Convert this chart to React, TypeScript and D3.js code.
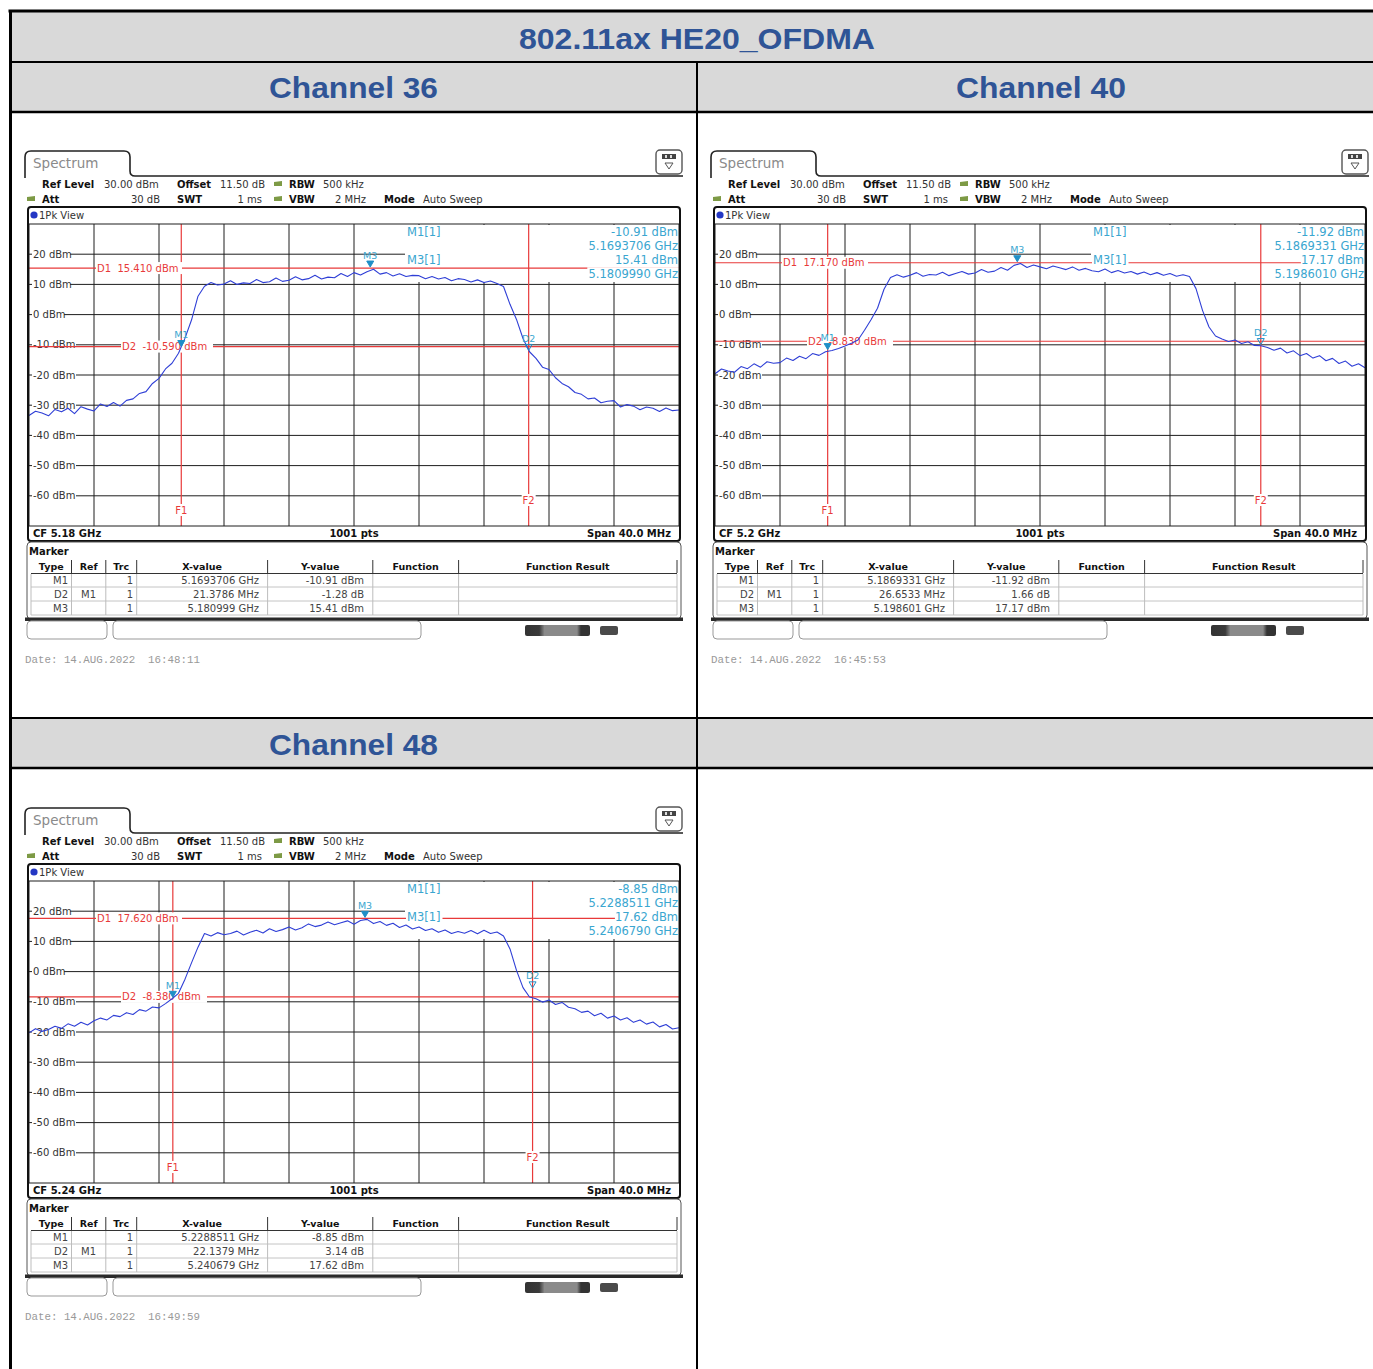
import React from "react";
import * as d3 from "d3";

// ---------- data ----------
const tableTitle = "802.11ax HE20_OFDMA";
const channelNames = ["Channel 36", "Channel 40", "Channel 48"];
const centerFreqGHz = [5.18, 5.2, 5.24];
const cfLabels = ["CF 5.18 GHz", "CF 5.2 GHz", "CF 5.24 GHz"];
const spanMHz = 40;
const sweepPts = 1001;
const yTicks = [20, 10, 0, -10, -20, -30, -40, -50, -60];
const refLevelDbm = 30;
const bottomDbm = -70;

const m1Freq = [5.1693706, 5.1869331, 5.2288511];
const m1Level = [-10.91, -11.92, -8.85];
const d2OffsetMHz = [21.3786, 26.6533, 22.1379];
const d2DeltaDb = [-1.28, 1.66, 3.14];
const m3Freq = [5.180999, 5.198601, 5.240679];
const m3Level = [15.41, 17.17, 17.62];
const d1LineDbm = [15.41, 17.17, 17.62];
const d2LineDbm = [-10.59, -8.83, -8.38];
const dateStamps = ["14.AUG.2022  16:48:11", "14.AUG.2022  16:45:53", "14.AUG.2022  16:49:59"];

// trace levels (dBm), sampled every 0.4 MHz across the 40 MHz span
const traceCh36 = [
  -33.4, -32.0, -32.6, -33.5, -31.4, -32.2, -31.0, -32.8, -30.5, -31.3,
  -31.9, -29.6, -30.4, -29.1, -30.3, -28.4, -27.9, -26.1, -25.5, -22.8,
  -21.1, -18.0, -16.1, -12.8, -7.8, -1.8,
  6.1, 9.4, 10.6, 9.8, 10.1, 11.2, 10.0, 10.5, 10.3, 11.6,
  10.6, 10.9, 12.1, 11.0, 11.4, 12.5, 11.5, 11.9, 13.0, 11.8,
  12.4, 12.2, 13.6, 12.6, 13.9, 13.1, 14.2, 15.0, 13.4, 13.9,
  12.8, 13.5, 12.6, 13.0, 12.9, 11.9, 12.6, 11.8, 12.3, 11.2,
  11.9, 11.6, 10.8, 11.5, 10.6, 11.1, 10.3, 9.3,
  3.4, -1.6, -7.9, -12.3, -14.5, -17.4, -18.2, -20.9, -22.8, -23.9,
  -25.8, -26.4, -27.9, -27.6, -29.2, -28.7, -28.5, -30.6, -29.8, -30.3,
  -31.5, -30.6, -31.0, -32.1, -30.9, -31.8, -31.6,
];
const traceCh40 = [
  -19.6, -18.0, -18.7, -19.1, -17.2, -17.9, -16.3, -17.4, -15.6, -16.1,
  -15.9, -14.4, -15.2, -13.8, -14.6, -12.9, -13.5, -12.3, -11.9, -11.2,
  -10.4, -9.5, -8.4, -5.2, -1.7, 2.1,
  8.4, 12.3, 13.2, 12.4, 13.0, 13.9, 12.7, 13.3, 13.1, 14.0,
  12.9, 13.6, 14.3, 13.4, 13.8, 14.9, 14.0, 14.4, 15.6, 14.7,
  16.3, 16.9, 15.6, 16.4, 15.8, 15.2, 16.1, 15.5, 14.9, 15.8,
  14.7, 15.3, 14.5, 14.2, 15.1, 13.9, 14.6, 13.8, 14.3, 13.4,
  14.1, 13.2, 13.9, 13.0, 13.6, 12.7, 13.2, 12.6,
  8.6, 1.4, -4.1, -7.1, -8.1, -8.9, -8.4, -9.6, -9.0, -10.2,
  -10.3, -10.9, -11.8, -11.1, -12.7, -12.0, -13.6, -12.9, -14.4, -13.6,
  -15.3, -14.5, -16.2, -15.4, -17.1, -16.3, -17.6,
];
const traceCh48 = [
  -20.3, -18.9, -19.8, -19.2, -18.1, -18.8, -17.3, -18.1, -16.8, -17.7,
  -16.3, -15.4, -16.0, -14.5, -14.9, -13.6, -14.2, -12.6, -13.1, -11.7,
  -12.0, -10.6, -9.0, -7.2, -2.5, 2.9,
  8.1, 12.6, 11.8, 12.9, 12.2, 12.6, 13.4, 12.1, 13.0, 13.7,
  12.8, 14.2, 13.3, 13.9, 14.8, 13.8, 14.5, 15.8, 14.9, 15.4,
  16.4, 15.5, 16.2, 16.8, 15.7, 16.9, 17.3, 15.9, 16.6, 15.3,
  16.0, 14.6, 15.4, 14.1, 14.8, 13.6, 14.2, 13.0, 13.8, 12.6,
  13.3, 12.7, 13.6, 12.5, 13.7, 12.6, 13.1, 11.8,
  7.5, 0.4, -5.3, -8.4, -9.0, -10.1, -9.4, -10.9, -10.2, -11.8,
  -12.3, -13.5, -13.1, -14.6, -13.8, -15.4, -14.7, -16.0, -15.3, -16.8,
  -16.0, -17.4, -16.7, -18.3, -17.5, -19.0, -18.6,
];
const traces = [traceCh36, traceCh40, traceCh48];

// ---------- layout ----------
const W = 1373;
const H = 1369;
const FONT = "'DejaVu Sans', Verdana, sans-serif";
const TITLE_FONT = "'Liberation Sans', Arial, sans-serif";
const BLUE_TITLE = "#2f5496";
const RED = "#e83a3a";
const CYAN = "#3aa6d0";
const TRACE = "#2f3fd6";
const GRID = "#1e1e1e";
const GX0 = 29, GX1 = 679, GY0 = 224, GY1 = 526;
const panelOffsets = [ { x: 0, y: 0 }, { x: 686, y: 0 }, { x: 0, y: 657 } ];

function BgText ( { x, y, text, size = 10, color = "#222", anchor = "start", weight = "normal", pad = 1 }: any )
{
    const w = text.length * size * 0.6;
    const x0 = anchor === "end" ? x - w : anchor === "middle" ? x - w / 2 : x;
    return (
        <g>
            <rect x={ x0 - pad } y={ y - size / 2 - 1 } width={ w + pad * 2 } height={ size + 2 } fill="#fff" />
            <text x={ x } y={ y } fill={ color } fontSize={ size } fontWeight={ weight } textAnchor={ anchor }
                dominantBaseline="central" style={ { whiteSpace: "pre" } }>{ text }</text>
        </g>
    );
}

function T ( { x, y, children, size = 10, color = "#222", anchor = "start", weight = "normal", family = FONT }: any )
{
    return (
        <text x={ x } y={ y } fill={ color } fontSize={ size } fontWeight={ weight } textAnchor={ anchor }
            fontFamily={ family } dominantBaseline="central" style={ { whiteSpace: "pre" } }>{ children }</text>
    );
}

function GreenSq ( { x, y }: any )
{
    return <path d={ `M${ x },${ y + 1 }L${ x + 8 },${ y }L${ x + 8 },${ y + 5 }L${ x },${ y + 5 }Z` } fill="#7d9a45" />;
}

function Panel ( { i }: { i: number } )
{
    const off = panelOffsets[ i ];
    const start = centerFreqGHz[ i ] - spanMHz / 2000;
    const stop = centerFreqGHz[ i ] + spanMHz / 2000;
    const x = d3.scaleLinear().domain( [ start, stop ] ).range( [ GX0, GX1 ] );
    const y = d3.scaleLinear().domain( [ bottomDbm, refLevelDbm ] ).range( [ GY1, GY0 ] );
    const trace = traces[ i ];
    const step = ( stop - start ) / ( trace.length - 1 );
    const line = d3.line<number>().x( ( _, k ) => x( start + k * step ) ).y( ( d ) => y( d ) );
    const vLines = d3.range( 1, 10 ).map( ( k ) => start + ( k * ( stop - start ) ) / 10 );

    const d2Freq = m1Freq[ i ] + d2OffsetMHz[ i ] / 1000;
    const d2Lvl = m1Level[ i ] + d2DeltaDb[ i ];
    const markers = [
        { name: "M1", f: m1Freq[ i ], l: m1Level[ i ], delta: false },
        { name: "D2", f: d2Freq, l: d2Lvl, delta: true },
        { name: "M3", f: m3Freq[ i ], l: m3Level[ i ], delta: false },
    ];

    const rows = [
        [ "M1", "", "1", `${ m1Freq[ i ].toFixed( 7 ) } GHz`, `${ m1Level[ i ].toFixed( 2 ) } dBm` ],
        [ "D2", "M1", "1", `${ d2OffsetMHz[ i ].toFixed( 4 ) } MHz`, `${ d2DeltaDb[ i ].toFixed( 2 ) } dB` ],
        [ "M3", "", "1", `${ m3Freq[ i ].toFixed( 6 ) } GHz`, `${ m3Level[ i ].toFixed( 2 ) } dBm` ],
    ];
    const colEdges = [ 31, 71.5, 105.8, 136.7, 267.6, 372.8, 458.6, 677 ];
    const headers = [ "Type", "Ref", "Trc", "X-value", "Y-value", "Function", "Function Result" ];

    return (
        <g transform={ `translate(${ off.x },${ off.y })` } fontFamily={ FONT }>
            {/* Spectrum tab + icon */ }
            <path d="M25,178 L25,157 Q25,151 31,151 L124,151 Q130,151 130,157 L130,171 Q130,176 135,176 L683,176"
                fill="none" stroke="#222" strokeWidth={ 1.6 } />
            <T x={ 33 } y={ 163 } size={ 13.5 } color="#8a8a8a">Spectrum</T>
            <rect x={ 656 } y={ 150 } width={ 26 } height={ 24 } rx={ 4 } fill="#fff" stroke="#555" strokeWidth={ 1.4 } />
            <rect x={ 662 } y={ 154 } width={ 14 } height={ 5 } fill="#444" />
            <rect x={ 665 } y={ 155 } width={ 2 } height={ 3 } fill="#ddd" />
            <rect x={ 670 } y={ 155 } width={ 2 } height={ 3 } fill="#ddd" />
            <path d="M665,163 L673,163 L669,169 Z" fill="none" stroke="#555" strokeWidth={ 1 } />

            {/* setting rows */ }
            <T x={ 42 } y={ 184 } weight="bold" color="#111">Ref Level</T>
            <T x={ 104 } y={ 184 } color="#333">30.00 dBm</T>
            <T x={ 177 } y={ 184 } weight="bold" color="#111">Offset</T>
            <T x={ 220 } y={ 184 } color="#333">11.50 dB</T>
            <GreenSq x={ 274 } y={ 181 } />
            <T x={ 289 } y={ 184 } weight="bold" color="#111">RBW</T>
            <T x={ 323 } y={ 184 } color="#333">500 kHz</T>
            <GreenSq x={ 27 } y={ 196 } />
            <T x={ 42 } y={ 199 } weight="bold" color="#111">Att</T>
            <T x={ 160 } y={ 199 } anchor="end" color="#333">30 dB</T>
            <T x={ 177 } y={ 199 } weight="bold" color="#111">SWT</T>
            <T x={ 262 } y={ 199 } anchor="end" color="#333">1 ms</T>
            <GreenSq x={ 274 } y={ 196 } />
            <T x={ 289 } y={ 199 } weight="bold" color="#111">VBW</T>
            <T x={ 366 } y={ 199 } anchor="end" color="#333">2 MHz</T>
            <T x={ 384 } y={ 199 } weight="bold" color="#111">Mode</T>
            <T x={ 423 } y={ 199 } color="#333">Auto Sweep</T>

            {/* plot window */ }
            <rect x={ 28 } y={ 207 } width={ 652 } height={ 334 } rx={ 3 } fill="#fff" />
            <circle cx={ 34 } cy={ 215 } r={ 3.6 } fill="#2437c4" />
            <T x={ 39 } y={ 215 } color="#333">1Pk View</T>

            {/* grid */ }
            { vLines.map( ( f, k ) => (
                <line key={ `v${ k }` } x1={ x( f ) } x2={ x( f ) } y1={ GY0 } y2={ GY1 } stroke={ GRID } strokeWidth={ 1 } />
            ) ) }
            { yTicks.map( ( t ) => (
                <line key={ `h${ t }` } x1={ GX0 } x2={ GX1 } y1={ y( t ) } y2={ y( t ) } stroke={ GRID } strokeWidth={ 1 } />
            ) ) }
            { yTicks.map( ( t ) => (
                <BgText key={ `l${ t }` } x={ 33 } y={ y( t ) } text={ `${ t } dBm` } color="#333" size={ 10 } />
            ) ) }

            {/* marker info area */ }
            <rect x={ 405 } y={ GY0 + 1 } width={ GX1 - 405 } height={ 57 } fill="#fff" />

            {/* display lines */ }
            <line x1={ GX0 } x2={ GX1 } y1={ y( d1LineDbm[ i ] ) } y2={ y( d1LineDbm[ i ] ) } stroke={ RED } strokeWidth={ 1.2 } />
            <line x1={ GX0 } x2={ GX1 } y1={ y( d2LineDbm[ i ] ) } y2={ y( d2LineDbm[ i ] ) } stroke={ RED } strokeWidth={ 1.2 } />
            <line x1={ x( m1Freq[ i ] ) } x2={ x( m1Freq[ i ] ) } y1={ GY0 } y2={ GY1 } stroke={ RED } strokeWidth={ 1.2 } />
            <line x1={ x( d2Freq ) } x2={ x( d2Freq ) } y1={ GY0 } y2={ GY1 } stroke={ RED } strokeWidth={ 1.2 } />
            <BgText x={ 97 } y={ y( d1LineDbm[ i ] ) } text={ `D1  ${ d1LineDbm[ i ].toFixed( 3 ) } dBm` } color={ RED } />
            <BgText x={ 122 } y={ y( d2LineDbm[ i ] ) } text={ `D2  ${ d2LineDbm[ i ].toFixed( 3 ) } dBm` } color={ RED } />
            <BgText x={ x( m1Freq[ i ] ) } y={ 510 } text="F1" anchor="middle" color={ RED } />
            <BgText x={ x( d2Freq ) } y={ 500 } text="F2" anchor="middle" color={ RED } />

            {/* trace */ }
            <path d={ line( trace ) || "" } fill="none" stroke={ TRACE } strokeWidth={ 1.1 } strokeLinejoin="round" />

            {/* markers on trace */ }
            { markers.map( ( m ) =>
            {
                const mx = x( m.f ), my = y( m.l );
                return (
                    <g key={ m.name }>
                        <path d={ `M${ mx - 3.5 },${ my - 7 }L${ mx + 3.5 },${ my - 7 }L${ mx },${ my - 1 }Z` }
                            fill={ m.delta ? "none" : "#1f8fc7" } stroke="#1f8fc7" strokeWidth={ 1 } />
                        <T x={ mx } y={ my - 13 } anchor="middle" size={ 9.5 } color={ CYAN }>{ m.name }</T>
                    </g>
                );
            } ) }

            {/* marker info text */ }
            <BgText x={ 407 } y={ 232 } text="M1[1]" size={ 11.5 } color={ CYAN } />
            <BgText x={ 407 } y={ 260 } text="M3[1]" size={ 11.5 } color={ CYAN } />
            <BgText x={ 678 } y={ 232 } anchor="end" text={ `${ m1Level[ i ].toFixed( 2 ) } dBm` } size={ 11.5 } color={ CYAN } />
            <BgText x={ 678 } y={ 246 } anchor="end" text={ `${ m1Freq[ i ].toFixed( 7 ) } GHz` } size={ 11.5 } color={ CYAN } />
            <BgText x={ 678 } y={ 260 } anchor="end" text={ `${ m3Level[ i ].toFixed( 2 ) } dBm` } size={ 11.5 } color={ CYAN } />
            <BgText x={ 678 } y={ 274 } anchor="end" text={ `${ m3Freq[ i ].toFixed( 7 ) } GHz` } size={ 11.5 } color={ CYAN } />

            {/* grid frame and window border */ }
            <rect x={ GX0 } y={ GY0 } width={ GX1 - GX0 } height={ GY1 - GY0 } fill="none" stroke={ GRID } strokeWidth={ 1 } />
            <rect x={ 28 } y={ 207 } width={ 652 } height={ 334 } rx={ 3 } fill="none" stroke="#111" strokeWidth={ 2 } />
            <T x={ 33 } y={ 533 } weight="bold" color="#111">{ cfLabels[ i ] }</T>
            <T x={ ( GX0 + GX1 ) / 2 } y={ 533 } anchor="middle" weight="bold" color="#111">{ `${ sweepPts } pts` }</T>
            <T x={ 671 } y={ 533 } anchor="end" weight="bold" color="#111">{ `Span ${ spanMHz.toFixed( 1 ) } MHz` }</T>

            {/* marker table */ }
            <rect x={ 27 } y={ 542 } width={ 654 } height={ 77 } rx={ 4 } fill="#fff" stroke="#555" strokeWidth={ 1 } />
            <T x={ 29 } y={ 551 } weight="bold" color="#111">Marker</T>
            { headers.map( ( h, k ) => (
                <T key={ h } x={ ( colEdges[ k ] + colEdges[ k + 1 ] ) / 2 } y={ 566 } anchor="middle" weight="bold" size={ 9.5 } color="#111">{ h }</T>
            ) ) }
            { colEdges.slice( 1 ).map( ( cx, k ) => (
                <line key={ `hc${ k }` } x1={ cx } x2={ cx } y1={ 560 } y2={ 573 } stroke="#333" strokeWidth={ 1 } />
            ) ) }
            <line x1={ 31 } x2={ 677 } y1={ 573.5 } y2={ 573.5 } stroke="#333" strokeWidth={ 1.2 } />
            { rows.map( ( r, ri ) =>
            {
                const cy = 580 + ri * 14;
                return (
                    <g key={ `r${ ri }` }>
                        <line x1={ 31 } x2={ 677 } y1={ cy + 7 } y2={ cy + 7 } stroke="#c4c4c4" strokeWidth={ 1 } />
                        <T x={ 68 } y={ cy } anchor="end" color="#444">{ r[ 0 ] }</T>
                        <T x={ 88.6 } y={ cy } anchor="middle" color="#444">{ r[ 1 ] }</T>
                        <T x={ 133 } y={ cy } anchor="end" color="#444">{ r[ 2 ] }</T>
                        <T x={ 259 } y={ cy } anchor="end" color="#444">{ r[ 3 ] }</T>
                        <T x={ 364 } y={ cy } anchor="end" color="#444">{ r[ 4 ] }</T>
                    </g>
                );
            } ) }
            { colEdges.map( ( cx, k ) => (
                <line key={ `rc${ k }` } x1={ cx } x2={ cx } y1={ 574 } y2={ 615 } stroke="#bdbdbd" strokeWidth={ 1 } />
            ) ) }
            <rect x={ 25 } y={ 617.5 } width={ 658 } height={ 3.5 } fill="#2a2a2a" />

            {/* soft key strip */ }
            <rect x={ 27 } y={ 621 } width={ 80 } height={ 18 } rx={ 4 } fill="#fff" stroke="#999" strokeWidth={ 1 } />
            <rect x={ 113 } y={ 621 } width={ 308 } height={ 18 } rx={ 4 } fill="#fff" stroke="#999" strokeWidth={ 1 } />
            <rect x={ 525 } y={ 625 } width={ 65 } height={ 11 } rx={ 2 } fill="url(#barGrad)" />
            <rect x={ 600 } y={ 626 } width={ 18 } height={ 9 } rx={ 2 } fill="#4a4a4a" />

            <T x={ 25 } y={ 660 } size={ 10.8 } color="#999" family="'Liberation Mono', 'Courier New', monospace">{ `Date: ${ dateStamps[ i ] }` }</T>
        </g>
    );
}

export default function App ()
{
    const gray = "#d9d9d9";
    return (
        <div style={ { position: "absolute", left: 0, top: 0 } }>
            <svg width={ W } height={ H } style={ { display: "block", background: "#fff" } }>
                <defs>
                    <linearGradient id="barGrad" x1="0" x2="1" y1="0" y2="0">
                        <stop offset="0" stopColor="#333" />
                        <stop offset="0.22" stopColor="#3a3a3a" />
                        <stop offset="0.3" stopColor="#8a8a8a" />
                        <stop offset="0.8" stopColor="#8a8a8a" />
                        <stop offset="0.86" stopColor="#333" />
                        <stop offset="1" stopColor="#333" />
                    </linearGradient>
                </defs>

                {/* document table */ }
                <rect x={ 10 } y={ 10 } width={ W } height={ 52 } fill={ gray } />
                <rect x={ 10 } y={ 62 } width={ W } height={ 50 } fill={ gray } />
                <rect x={ 10 } y={ 718 } width={ W } height={ 50 } fill={ gray } />
                <line x1={ 8.5 } x2={ W } y1={ 11 } y2={ 11 } stroke="#000" strokeWidth={ 3 } />
                <line x1={ 10.5 } x2={ 10.5 } y1={ 10 } y2={ H } stroke="#000" strokeWidth={ 3 } />
                <line x1={ 10 } x2={ W } y1={ 62 } y2={ 62 } stroke="#000" strokeWidth={ 2 } />
                <line x1={ 10 } x2={ W } y1={ 112 } y2={ 112 } stroke="#000" strokeWidth={ 2.6 } />
                <line x1={ 10 } x2={ W } y1={ 718 } y2={ 718 } stroke="#000" strokeWidth={ 2 } />
                <line x1={ 10 } x2={ W } y1={ 768 } y2={ 768 } stroke="#000" strokeWidth={ 2.6 } />
                <line x1={ 697 } x2={ 697 } y1={ 62 } y2={ H } stroke="#000" strokeWidth={ 2 } />

                <text x={ 697 } y={ 49 } textAnchor="middle" fontFamily={ TITLE_FONT } fontWeight="bold" fontSize={ 30 }
                    fill={ BLUE_TITLE } textLength={ 356 } lengthAdjust="spacingAndGlyphs">{ tableTitle }</text>
                <text x={ 353.5 } y={ 98 } textAnchor="middle" fontFamily={ TITLE_FONT } fontWeight="bold" fontSize={ 30 }
                    fill={ BLUE_TITLE } textLength={ 169 } lengthAdjust="spacingAndGlyphs">{ channelNames[ 0 ] }</text>
                <text x={ 1041 } y={ 98 } textAnchor="middle" fontFamily={ TITLE_FONT } fontWeight="bold" fontSize={ 30 }
                    fill={ BLUE_TITLE } textLength={ 170 } lengthAdjust="spacingAndGlyphs">{ channelNames[ 1 ] }</text>
                <text x={ 353.5 } y={ 755 } textAnchor="middle" fontFamily={ TITLE_FONT } fontWeight="bold" fontSize={ 30 }
                    fill={ BLUE_TITLE } textLength={ 169 } lengthAdjust="spacingAndGlyphs">{ channelNames[ 2 ] }</text>

                <Panel i={ 0 } />
                <Panel i={ 1 } />
                <Panel i={ 2 } />
            </svg>
        </div>
    );
}
